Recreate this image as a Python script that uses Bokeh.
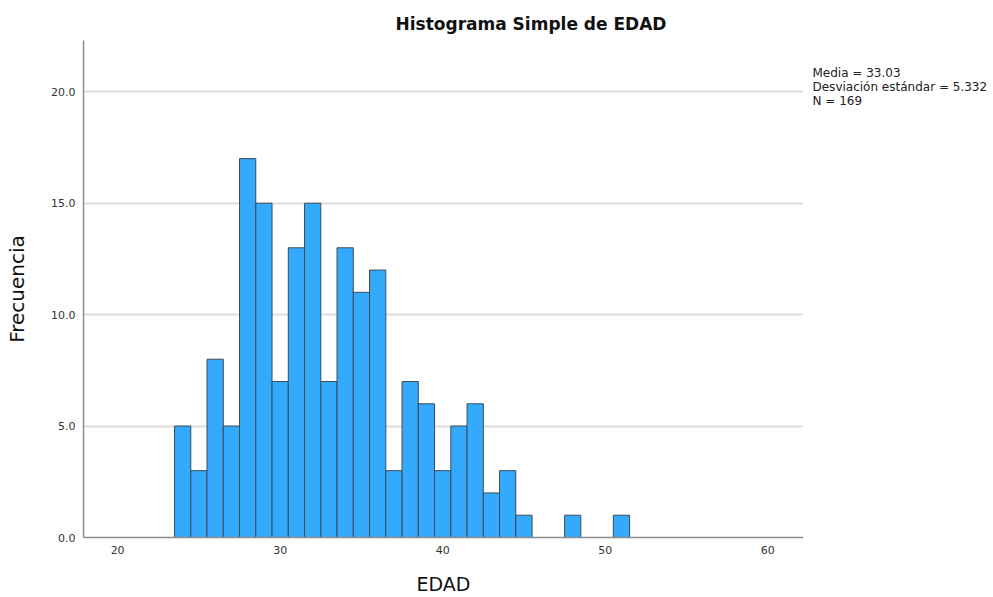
from bokeh.plotting import figure
from bokeh.models import Range1d, FixedTicker, NumeralTickFormatter, ColumnDataSource
from bokeh.layouts import row
from bokeh.core.properties import value
from bokeh.embed import file_html
from bokeh.resources import INLINE

# Data (bin width 1, centred on integer ages)
edad = list(range(24, 52))
frecuencia = [5, 3, 8, 5, 17, 15, 7, 13, 15, 7, 13, 11, 12, 3, 7, 6, 3, 5, 6, 2,
              3, 1, 0, 0, 1, 0, 0, 1]
x_ticks = [20, 30, 40, 50, 60]
y_ticks = [0, 5, 10, 15, 20]
stats_lines = ["Media = 33.03", "Desviación estándar = 5.332", "N = 169"]
title_text = "Histograma Simple de EDAD"

FONT = "DejaVu Sans"

src_e = [e for e, f in zip(edad, frecuencia) if f > 0]
src_f = [f for f in frecuencia if f > 0]
source = ColumnDataSource(dict(
    left=[e - 0.5 for e in src_e],
    right=[e + 0.5 for e in src_e],
    top=src_f,
    bottom=[0] * len(src_f),
))

W, H = 803, 597
TOP, BOTTOM = 40, 538
p = figure(width=W, height=H, output_backend="svg", toolbar_location=None,
           x_range=Range1d(17.9, 62.2), y_range=Range1d(0, 22.3),
           min_border_left=83, min_border_right=0, min_border_top=TOP,
           min_border_bottom=H - BOTTOM)
p.outline_line_color = None
p.background_fill_color = "white"
p.border_fill_color = "white"

p.quad(left="left", right="right", top="top", bottom="bottom", source=source,
       fill_color="#33aafc", line_color="#3d4a57", line_width=1)

# title
p.title.text = title_text
p.title.text_font = FONT
p.title.text_font_size = "17px"
p.title.text_font_style = "bold"
p.title.text_color = "#111111"
p.title.align = "left"
p.title.offset = 312
p.title.standoff = 14

# axes
for ax in (p.xaxis, p.yaxis):
    ax.axis_line_color = "#8c8c8c"
    ax.axis_line_width = 1.5
    ax.major_tick_in = 0
    ax.major_tick_out = 0
    ax.minor_tick_in = 0
    ax.minor_tick_out = 0
    ax.major_label_text_font = FONT
    ax.major_label_text_font_size = "11px"
    ax.major_label_text_color = "#333333"
    ax.axis_label_text_font = FONT
    ax.axis_label_text_font_style = "normal"
    ax.axis_label_text_color = "#111111"

p.xaxis.axis_label_text_font_size = "19px"
p.yaxis.axis_label_text_font_size = "20px"
p.xaxis.ticker = FixedTicker(ticks=x_ticks)
p.yaxis.ticker = FixedTicker(ticks=y_ticks)
p.yaxis.formatter = NumeralTickFormatter(format="0.0")
p.xaxis.axis_label = "EDAD"
p.yaxis.axis_label = "Frecuencia"
p.xaxis.major_label_standoff = 8
p.yaxis.major_label_standoff = 8
p.xaxis.axis_label_standoff = 16
p.yaxis.axis_label_standoff = 19

p.xgrid.grid_line_color = None
p.ygrid.ticker = FixedTicker(ticks=y_ticks[1:])
p.ygrid.grid_line_color = "#dddddd"
p.ygrid.grid_line_width = 2

# side panel with the summary statistics; its frame spans page y TOP..BOTTOM,
# so the y range is given in page pixels (downwards)
W2 = 187
p2 = figure(width=W2, height=H, output_backend="svg", toolbar_location=None,
            x_range=Range1d(0, W2), y_range=Range1d(BOTTOM, TOP),
            min_border_left=0, min_border_right=0, min_border_top=TOP,
            min_border_bottom=H - BOTTOM, x_axis_location=None, y_axis_location=None)
p2.outline_line_color = None
p2.grid.visible = False
p2.border_fill_color = "white"
p2.text(x=[9] * len(stats_lines), y=[73 + 14 * i for i in range(len(stats_lines))],
        text=stats_lines, text_font=value(FONT), text_font_size="12px",
        text_color="#222222", text_align="left", text_baseline="middle")

layout = row(p, p2, spacing=0)
open("out.html", "w").write(file_html(layout, INLINE))
